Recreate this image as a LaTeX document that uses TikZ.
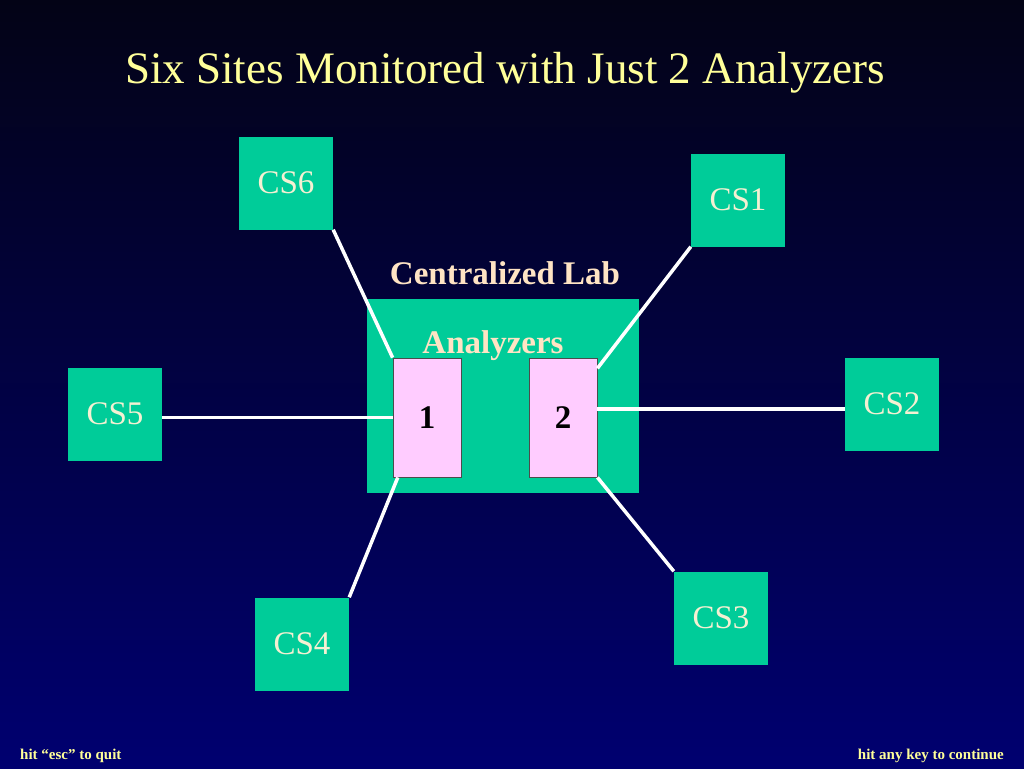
\documentclass[tikz,border=0pt]{standalone}
\usepackage{fontspec}
\setmainfont{Liberation Serif}
\usetikzlibrary{positioning}
\definecolor{labgreen}{RGB}{0,204,153}
\definecolor{anpink}{RGB}{255,204,255}
\definecolor{titleyellow}{RGB}{255,255,153}
\definecolor{peach}{RGB}{255,228,196}
\definecolor{cream}{RGB}{245,240,210}
\tikzset{site/.style={fill=labgreen, minimum width=94pt, minimum height=93pt, inner sep=0pt, text=cream, font=\fontsize{33}{33}\selectfont},
analyzer/.style={fill=anpink, draw=black!70, line width=0.8pt, minimum width=68pt, minimum height=119pt, inner sep=0pt, font=\bfseries\fontsize{33}{33}\selectfont},
link/.style={draw=white, line width=3.5pt},
%footer lines
hint/.style={text=titleyellow, font=\bfseries\fontsize{15}{15}\selectfont, inner sep=0pt}}
\begin{document}
\begin{tikzpicture}[x=1pt,y=-1pt]

    \shade[top color={rgb,255:red,3;green,3;blue,22}, bottom color={rgb,255:red,0;green,0;blue,112}] (0,0) rectangle (1024,768);
    \useasboundingbox (0,0) rectangle (1024,768);

    \node[anchor=base, text=titleyellow, font=\fontsize{45}{45}\selectfont, inner sep=0pt] (title) at (505,83) {Six Sites Monitored with Just 2 Analyzers};

    \node[fill=labgreen, minimum width=272pt, minimum height=194pt, inner sep=0pt] (lab) at (503,396) {};
    \node[anchor=base, text=peach, font=\bfseries\fontsize{33}{33}\selectfont, inner sep=0pt] (labname) at (505,284) {Centralized Lab};

    \foreach \n/\x/\y in {1/738/200, 2/892/404, 3/721/618, 4/302/644, 5/115/414, 6/286/183}
    \node[site] (cs\n) at (\x,\y) {CS\n};

    \node[analyzer] (an1) at (427,417.5) {1};
    \node[analyzer] (an2) at (563,417.5) {2};
    \node[anchor=base, text=peach, font=\bfseries\fontsize{33}{33}\selectfont, inner sep=0pt] (anname) at (493,353) {Analyzers};

    \draw[link] (cs6.south east) -- (an1.north west);
    \draw[link] (cs1.south west) -- (an2.55);
    \draw[link] (cs4.north east) -- (an1.-116);
    \draw[link] (cs3.north west) -- (an2.south east);
    \draw[link] (cs5.east |- an1.west) -- (an1.west);
    \draw[link] (an2.14) -- (an2.14 -| cs2.west);

    \node[hint, anchor=base west] (quit) at (20,759) {hit “esc” to quit};
    \node[hint, anchor=base east] (next) at (1004,759) {hit any key to continue};

  \end{tikzpicture}
\end{document}
